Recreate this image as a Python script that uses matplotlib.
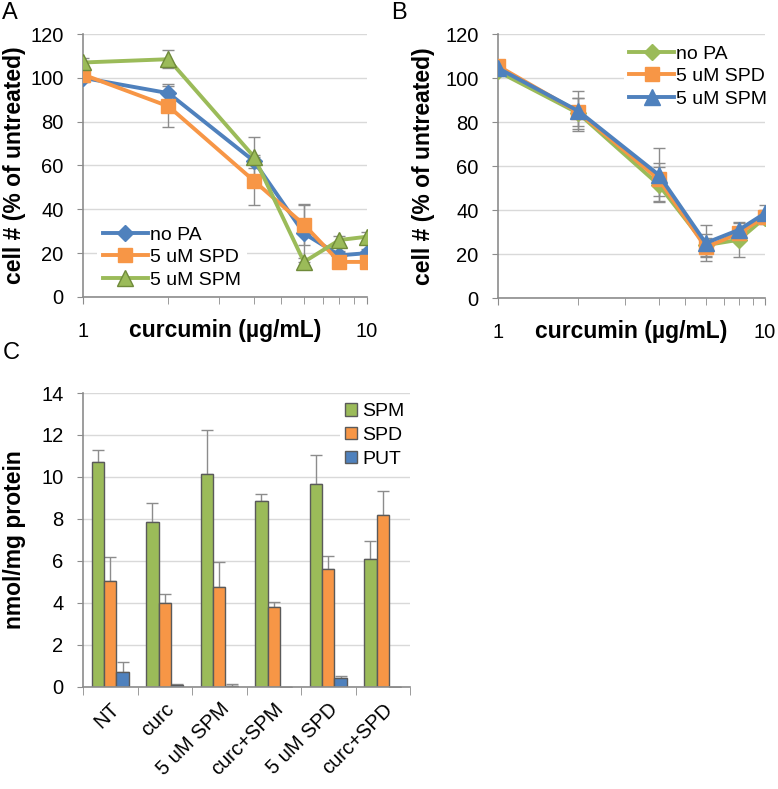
import numpy as np
import matplotlib
matplotlib.use('Agg')
import matplotlib.pyplot as plt
from matplotlib.ticker import FixedLocator, NullFormatter

plt.rcParams['font.family'] = ['Liberation Sans', 'DejaVu Sans']

# panel A / B: curcumin dose (ug/mL)
dose = [1, 2, 4, 6, 8, 10]

a_nopa = [100, 93, 62, 29, 19, 20]
a_nopa_err = [2, 4, 3, 13, 2, 2]
a_spd = [101.5, 87, 53, 33, 16, 16]
a_spd_err = [2, 9.5, 11, 9.5, 2, 2]
a_spm = [107, 108.5, 64, 16, 26, 27.5]
a_spm_err = [2, 4, 9, 2, 2, 2]

b_nopa = [103, 84, 51.5, 24, 26.5, 36.5]
b_nopa_err = [2, 7, 8, 5, 8, 3]
b_spd = [105.5, 84.5, 54, 23, 29.5, 37]
b_spd_err = [2, 6.5, 7.5, 4.5, 3, 3]
b_spm = [104.5, 85, 56, 25, 31, 38.5]
b_spm_err = [2, 9, 12, 8, 3, 4]

# panel C: polyamine content
groups = ['NT', 'curc', '5 uM SPM', 'curc+SPM', '5 uM SPD', 'curc+SPD']
c_spm = [10.7, 7.85, 10.15, 8.85, 9.65, 6.1]
c_spm_err = [0.6, 0.9, 2.1, 0.35, 1.4, 0.85]
c_spd = [5.05, 4.0, 4.78, 3.8, 5.6, 8.2]
c_spd_err = [1.12, 0.45, 1.17, 0.25, 0.65, 1.15]
c_put = [0.7, 0.08, 0.05, 0.0, 0.42, 0.0]
c_put_err = [0.5, 0.08, 0.1, 0.0, 0.08, 0.0]

BLUE = '#4F81BD'
ORANGE = '#F79646'
GREEN = '#9BBB59'
GRID = '#d9d9d9'
SPINE = '#8c8c8c'
ERR = '#8c8c8c'
FS = 14.5     # tick labels
LFS = 16.5    # axis labels
GFS = 14      # legends


def style_axes(ax):
    for s in ['top', 'right']:
        ax.spines[s].set_visible(False)
    for s in ['left', 'bottom']:
        ax.spines[s].set_color(SPINE)
        ax.spines[s].set_linewidth(1.2)
    ax.grid(axis='y', color=GRID, linewidth=1)
    ax.set_axisbelow(True)
    ax.tick_params(axis='y', which='both', direction='out', length=4,
                   color=SPINE, labelsize=FS, pad=10)


def dose_panel(ax, series, legend_kw):
    style_axes(ax)
    for y, err, col, mk, ms, mec, lab in series:
        ax.errorbar(dose, y, yerr=err, fmt='none', ecolor=ERR, elinewidth=1,
                    capsize=4, capthick=1, zorder=2)
        ax.plot(dose, y, color=col, lw=2.8, marker=mk, ms=ms, mfc=col,
                mec=mec, mew=1, label=lab, zorder=3)
    ax.set_xscale('log')
    ax.set_xlim(1, 10)
    ax.set_ylim(0, 120)
    ax.set_yticks(np.arange(0, 121, 20))
    ax.xaxis.set_major_locator(FixedLocator([1, 10]))
    ax.xaxis.set_minor_locator(FixedLocator([2, 3, 4, 5, 6, 7, 8, 9]))
    ax.xaxis.set_minor_formatter(NullFormatter())
    ax.set_xticklabels(['1', '10'])
    ax.tick_params(axis='x', which='both', direction='out', length=5,
                   color=SPINE, labelsize=FS, pad=13)
    ax.set_xlabel('curcumin (\u00b5g/mL)', fontsize=LFS, fontweight='bold')
    ax.xaxis.set_label_coords(0.5, -0.085)
    ax.set_ylabel('cell # (% of untreated)', fontsize=LFS, fontweight='bold')
    leg = ax.legend(fontsize=GFS, numpoints=1, handlelength=2.3,
                    handletextpad=0.1, labelspacing=0.25, borderpad=0.3,
                    borderaxespad=0, fancybox=False, frameon=True,
                    **legend_kw)
    leg.get_frame().set_edgecolor('none')
    leg.get_frame().set_facecolor('white')
    leg.get_frame().set_alpha(1)


fig = plt.figure(figsize=(7.78, 7.89), dpi=100)

axA = fig.add_axes([0.1067, 0.6236, 0.365, 0.3333])
dose_panel(axA, [
    (a_nopa, a_nopa_err, BLUE, 'D', 8, BLUE, 'no PA'),
    (a_spd, a_spd_err, ORANGE, 's', 10, ORANGE, '5 uM SPD'),
    (a_spm, a_spm_err, GREEN, '^', 11, '#6f8a3a', '5 uM SPM'),
], dict(loc='lower left', bbox_to_anchor=(0.05, 0.01)))
axA.yaxis.set_label_coords(-0.2, 0.5)

axB = fig.add_axes([0.640, 0.6223, 0.3432, 0.3346])
dose_panel(axB, [
    (b_nopa, b_nopa_err, GREEN, 'D', 8, GREEN, 'no PA'),
    (b_spd, b_spd_err, ORANGE, 's', 10, ORANGE, '5 uM SPD'),
    (b_spm, b_spm_err, BLUE, '^', 11, BLUE, '5 uM SPM'),
], dict(loc='upper right', bbox_to_anchor=(1.03, 0.98)))
axB.yaxis.set_label_coords(-0.235, 0.5)

# panel C bars
axC = fig.add_axes([0.1067, 0.1293, 0.4203, 0.3726])
style_axes(axC)
x = np.arange(len(groups))
w = 0.225
for k, (vals, errs, col, lab) in enumerate([
        (c_spm, c_spm_err, GREEN, 'SPM'),
        (c_spd, c_spd_err, ORANGE, 'SPD'),
        (c_put, c_put_err, BLUE, 'PUT')]):
    pos = x + (k - 1) * w
    axC.bar(pos, vals, width=w, color=col, edgecolor='#5a5a5a', linewidth=1,
            label=lab, zorder=2)
    errs_up = np.array(errs)
    axC.errorbar(pos, vals, yerr=[np.zeros(len(errs_up)), errs_up], fmt='none',
                 ecolor=ERR, elinewidth=1, capsize=4, capthick=1, zorder=1)
axC.set_xlim(-0.5, len(groups) - 0.5)
axC.set_ylim(0, 14)
axC.set_yticks(np.arange(0, 15, 2))
axC.set_xticks(x)
axC.set_xticklabels(groups, rotation=45, ha='right', va='top',
                    rotation_mode='anchor')
axC.xaxis.set_minor_locator(FixedLocator(np.arange(-0.5, len(groups), 1.0)))
axC.tick_params(axis='x', which='major', length=0, labelsize=FS, pad=9)
axC.tick_params(axis='x', which='minor', direction='out', length=6,
                color=SPINE)
axC.set_ylabel('nmol/mg protein', fontsize=LFS, fontweight='bold')
axC.yaxis.set_label_coords(-0.175, 0.5)
legC = axC.legend(fontsize=GFS, loc='upper right', bbox_to_anchor=(1.0, 0.985),
                  handlelength=0.6, handleheight=0.6, handletextpad=0.25,
                  labelspacing=0.35, borderpad=0.3, borderaxespad=0,
                  fancybox=False, frameon=True)
legC.get_frame().set_edgecolor('none')
legC.get_frame().set_facecolor('white')
legC.get_frame().set_alpha(1)

fig.text(0.003, 0.997, 'A', fontsize=17, va='top', ha='left')
fig.text(0.503, 0.997, 'B', fontsize=17, va='top', ha='left')
fig.text(0.003, 0.567, 'C', fontsize=17, va='top', ha='left')

fig.savefig('out.png', dpi=100)
